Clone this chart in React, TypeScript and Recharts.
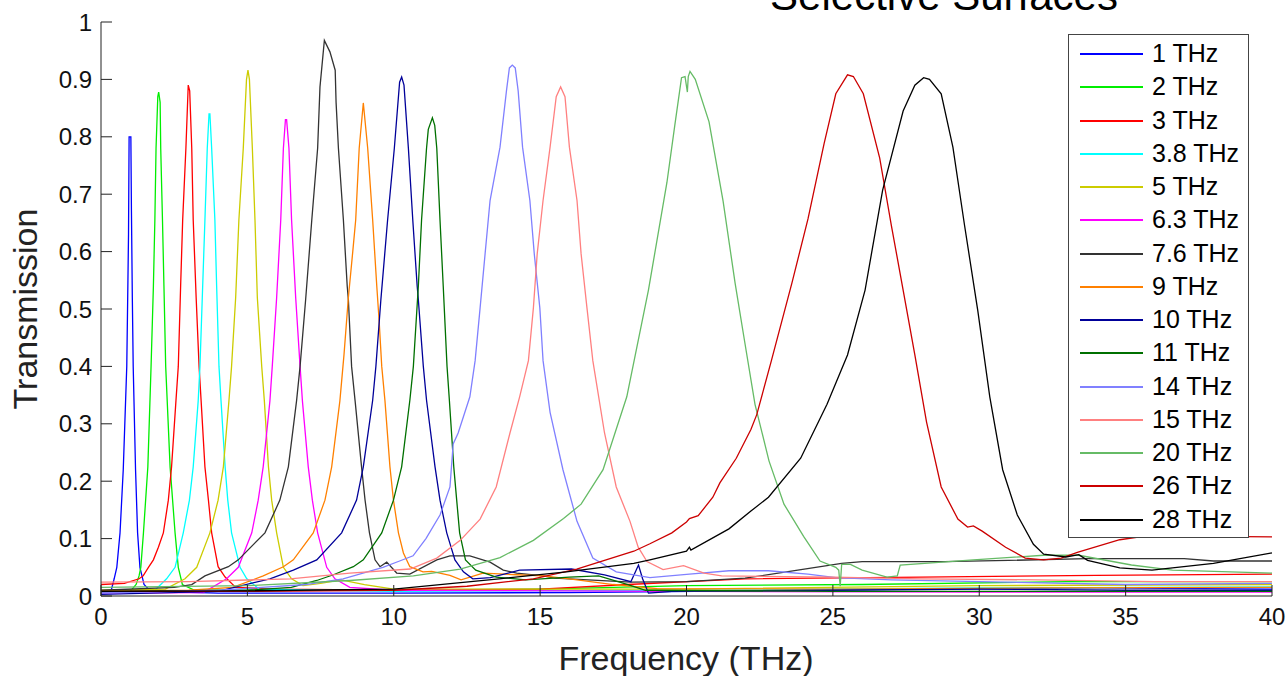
import { Legend, Line, LineChart, XAxis, YAxis } from 'recharts'

type Pt = [number, number]

// frequency (THz) / transmission pairs, one array per filter
const thz1: Pt[] = [[0, 0.004], [0.35, 0.01], [0.45, 0.03], [0.54, 0.05], [0.65, 0.11], [0.76, 0.22], [0.88, 0.4], [0.92, 0.55], [0.94, 0.63], [0.96, 0.8], [1.02, 0.8], [1.04, 0.67], [1.07, 0.52], [1.1, 0.4], [1.18, 0.22], [1.25, 0.11], [1.33, 0.05], [1.47, 0.02], [1.7, 0.008], [4, 0.005], [10, 0.005], [16, 0.006], [22, 0.009], [28, 0.012], [34, 0.014], [40, 0.012]]
const thz2: Pt[] = [[0, 0.006], [1.0, 0.008], [1.2, 0.02], [1.3, 0.035], [1.36, 0.05], [1.45, 0.11], [1.6, 0.225], [1.71, 0.4], [1.79, 0.54], [1.84, 0.655], [1.88, 0.78], [1.94, 0.87], [1.97, 0.878], [2.02, 0.86], [2.04, 0.78], [2.1, 0.655], [2.15, 0.54], [2.21, 0.4], [2.36, 0.225], [2.53, 0.11], [2.64, 0.05], [2.78, 0.02], [3.2, 0.01], [8, 0.01], [15, 0.012], [20, 0.018], [26, 0.02], [33, 0.025], [40, 0.025]]
const thz3: Pt[] = [[0, 0.02], [0.8, 0.022], [1.3, 0.03], [1.44, 0.035], [1.62, 0.05], [1.79, 0.063], [1.96, 0.085], [2.13, 0.11], [2.3, 0.167], [2.41, 0.225], [2.56, 0.34], [2.64, 0.4], [2.72, 0.54], [2.79, 0.655], [2.9, 0.78], [2.98, 0.89], [3.03, 0.88], [3.1, 0.78], [3.15, 0.655], [3.25, 0.52], [3.35, 0.4], [3.42, 0.34], [3.55, 0.225], [3.67, 0.167], [3.78, 0.11], [4.0, 0.051], [4.24, 0.033], [4.6, 0.015], [6, 0.012], [10, 0.01], [15, 0.012], [18, 0.02], [22, 0.03], [28, 0.033], [34, 0.036], [40, 0.038]]
const thz38: Pt[] = [[0, 0.005], [1.8, 0.008], [2.24, 0.03], [2.53, 0.05], [2.81, 0.11], [3.02, 0.167], [3.15, 0.225], [3.32, 0.34], [3.38, 0.4], [3.46, 0.52], [3.55, 0.655], [3.63, 0.78], [3.69, 0.84], [3.72, 0.84], [3.78, 0.78], [3.89, 0.655], [3.95, 0.54], [4.03, 0.4], [4.1, 0.34], [4.24, 0.225], [4.33, 0.167], [4.46, 0.11], [4.75, 0.05], [4.98, 0.03], [5.4, 0.012], [10, 0.008], [20, 0.01], [30, 0.014], [40, 0.016]]
const thz5: Pt[] = [[0, 0.01], [2.2, 0.012], [2.87, 0.03], [3.27, 0.05], [3.72, 0.11], [4.0, 0.167], [4.18, 0.225], [4.37, 0.34], [4.46, 0.4], [4.6, 0.52], [4.71, 0.655], [4.86, 0.78], [4.97, 0.9], [5.02, 0.916], [5.07, 0.9], [5.17, 0.78], [5.26, 0.655], [5.34, 0.52], [5.49, 0.4], [5.58, 0.34], [5.72, 0.225], [5.83, 0.167], [6.0, 0.11], [6.23, 0.05], [6.51, 0.03], [6.9, 0.018], [7.5, 0.022], [8.2, 0.028], [9, 0.02], [10, 0.012], [20, 0.012], [30, 0.018], [40, 0.02]]
const thz63: Pt[] = [[0, 0.005], [3.5, 0.006], [4.29, 0.03], [4.69, 0.05], [5.15, 0.11], [5.37, 0.167], [5.54, 0.225], [5.77, 0.34], [5.85, 0.4], [6.0, 0.52], [6.14, 0.655], [6.23, 0.78], [6.3, 0.83], [6.34, 0.83], [6.42, 0.78], [6.51, 0.655], [6.65, 0.52], [6.8, 0.4], [6.88, 0.34], [7.08, 0.225], [7.22, 0.167], [7.4, 0.11], [7.71, 0.05], [7.99, 0.03], [8.5, 0.015], [10, 0.01], [20, 0.008], [30, 0.007], [40, 0.007]]
const thz76: Pt[] = [[0, 0.01], [2.5, 0.015], [3.1, 0.02], [3.55, 0.035], [4.35, 0.051], [4.69, 0.063], [5.6, 0.11], [6.11, 0.167], [6.4, 0.225], [6.68, 0.34], [6.8, 0.4], [6.99, 0.516], [7.2, 0.655], [7.4, 0.78], [7.48, 0.887], [7.63, 0.968], [7.82, 0.948], [8.0, 0.916], [8.03, 0.86], [8.11, 0.78], [8.28, 0.655], [8.41, 0.54], [8.45, 0.516], [8.56, 0.4], [8.68, 0.34], [8.9, 0.225], [9.02, 0.167], [9.17, 0.11], [9.36, 0.063], [9.53, 0.051], [9.76, 0.059], [10.1, 0.04], [10.55, 0.038], [11.47, 0.063], [11.92, 0.07], [12.6, 0.07], [13.29, 0.059], [13.74, 0.045], [14.2, 0.04], [15.1, 0.035], [15.5, 0.031], [18.1, 0.024], [20, 0.025], [22, 0.031], [23.8, 0.045], [25.3, 0.057], [26, 0.06], [28.8, 0.06], [31, 0.062], [33.7, 0.065], [37, 0.065], [38, 0.061], [40, 0.061]]
const thz9: Pt[] = [[0, 0.008], [3, 0.01], [4.5, 0.015], [5.54, 0.035], [6.23, 0.051], [6.57, 0.063], [7.25, 0.11], [7.65, 0.167], [7.88, 0.225], [8.16, 0.34], [8.3, 0.42], [8.45, 0.52], [8.6, 0.6], [8.7, 0.655], [8.82, 0.78], [8.96, 0.859], [9.11, 0.78], [9.28, 0.655], [9.42, 0.54], [9.5, 0.48], [9.59, 0.4], [9.7, 0.34], [9.87, 0.225], [9.99, 0.167], [10.16, 0.11], [10.33, 0.075], [10.55, 0.051], [11.0, 0.042], [11.3, 0.043], [11.92, 0.036], [12.3, 0.028], [13.05, 0.04], [14.2, 0.037], [15.1, 0.035], [16, 0.03], [17.5, 0.02], [19, 0.013], [25, 0.012], [32, 0.014], [40, 0.015]]
const thz10: Pt[] = [[0, 0.003], [4, 0.008], [5.77, 0.03], [6.57, 0.045], [7.37, 0.063], [8.22, 0.11], [8.73, 0.167], [8.96, 0.225], [9.28, 0.341], [9.39, 0.4], [9.56, 0.516], [9.79, 0.655], [10.02, 0.78], [10.2, 0.895], [10.27, 0.904], [10.35, 0.89], [10.5, 0.78], [10.65, 0.655], [10.8, 0.54], [10.84, 0.516], [11.01, 0.4], [11.12, 0.341], [11.41, 0.225], [11.58, 0.167], [11.81, 0.11], [12.09, 0.063], [12.38, 0.042], [12.7, 0.03], [13.3, 0.032], [14.3, 0.045], [16.07, 0.047], [17.2, 0.037], [18.1, 0.025], [18.36, 0.054], [18.5, 0.03], [18.7, 0.005], [19.5, 0.008], [25, 0.01], [30, 0.012], [35, 0.01], [40, 0.01]]
const thz11: Pt[] = [[0, 0.008], [5, 0.01], [6.5, 0.015], [7.37, 0.027], [7.94, 0.037], [8.62, 0.051], [8.96, 0.063], [9.59, 0.11], [9.99, 0.167], [10.27, 0.225], [10.55, 0.341], [10.67, 0.4], [10.84, 0.54], [10.95, 0.655], [11.12, 0.78], [11.18, 0.813], [11.32, 0.833], [11.4, 0.82], [11.47, 0.78], [11.58, 0.655], [11.69, 0.54], [11.82, 0.4], [11.9, 0.341], [12.05, 0.225], [12.15, 0.167], [12.25, 0.11], [12.45, 0.063], [12.8, 0.045], [13.5, 0.033], [14.5, 0.028], [16, 0.033], [17, 0.035], [18, 0.02], [18.6, 0.01], [25, 0.008], [32, 0.008], [40, 0.008]]
const thz14: Pt[] = [[0, 0.005], [4, 0.01], [7, 0.02], [8.27, 0.03], [9.63, 0.05], [10.2, 0.061], [10.66, 0.07], [11.1, 0.1], [11.58, 0.141], [11.92, 0.19], [12.03, 0.265], [12.2, 0.284], [12.6, 0.347], [12.78, 0.41], [12.95, 0.502], [13.12, 0.596], [13.29, 0.689], [13.63, 0.782], [13.85, 0.88], [13.95, 0.92], [14.05, 0.925], [14.15, 0.92], [14.25, 0.88], [14.4, 0.782], [14.65, 0.689], [14.8, 0.596], [14.99, 0.502], [15.1, 0.41], [15.34, 0.32], [15.78, 0.22], [16.26, 0.13], [16.8, 0.066], [17.6, 0.042], [18.4, 0.035], [18.75, 0.032], [20.1, 0.038], [21.45, 0.044], [22.8, 0.044], [24.15, 0.038], [25.1, 0.032], [27, 0.028], [30, 0.025], [35, 0.02], [40, 0.022]]
const thz15: Pt[] = [[0, 0.024], [3, 0.025], [6.46, 0.03], [8.5, 0.04], [10.56, 0.047], [11.47, 0.066], [12.27, 0.097], [12.95, 0.134], [13.5, 0.19], [13.97, 0.284], [14.3, 0.347], [14.6, 0.41], [14.77, 0.502], [14.9, 0.596], [15.1, 0.689], [15.34, 0.782], [15.55, 0.87], [15.7, 0.887], [15.85, 0.87], [16.0, 0.782], [16.26, 0.689], [16.4, 0.596], [16.6, 0.502], [16.8, 0.41], [17.2, 0.284], [17.6, 0.19], [18.07, 0.13], [18.35, 0.085], [18.65, 0.06], [19.2, 0.046], [19.9, 0.053], [20.6, 0.04], [21.2, 0.035], [25, 0.033], [28, 0.03], [32, 0.028], [36, 0.025], [40, 0.025]]
const thz20: Pt[] = [[0, 0.015], [5, 0.018], [8.5, 0.027], [10.67, 0.035], [12.27, 0.047], [13.63, 0.067], [14.77, 0.097], [15.8, 0.135], [16.4, 0.16], [17.15, 0.22], [17.96, 0.347], [18.7, 0.533], [19.33, 0.72], [19.6, 0.82], [19.83, 0.903], [19.95, 0.905], [20.03, 0.878], [20.06, 0.905], [20.12, 0.914], [20.3, 0.9], [20.77, 0.826], [21.25, 0.688], [21.66, 0.545], [22.0, 0.439], [22.34, 0.334], [22.82, 0.235], [23.33, 0.16], [24.0, 0.104], [24.56, 0.061], [25.1, 0.05], [25.2, 0.045], [25.25, 0.017], [25.3, 0.055], [25.6, 0.055], [26.0, 0.045], [26.85, 0.033], [27.2, 0.035], [27.3, 0.054], [29.8, 0.063], [32.2, 0.071], [33.4, 0.071], [35.2, 0.054], [36.6, 0.045], [40, 0.04]]
const thz26: Pt[] = [[0, 0.008], [5, 0.008], [10, 0.01], [12.5, 0.017], [14.77, 0.03], [16.25, 0.047], [18.2, 0.078], [18.75, 0.091], [19.5, 0.11], [20.0, 0.129], [20.1, 0.135], [20.4, 0.14], [20.9, 0.172], [21.14, 0.197], [21.7, 0.24], [22.2, 0.29], [22.4, 0.316], [22.9, 0.41], [23.6, 0.545], [24.15, 0.657], [24.7, 0.788], [25.1, 0.875], [25.5, 0.908], [25.7, 0.905], [26.04, 0.875], [26.6, 0.763], [27.0, 0.645], [27.4, 0.533], [27.8, 0.42], [28.2, 0.303], [28.7, 0.19], [29.27, 0.134], [29.6, 0.12], [29.8, 0.122], [30.1, 0.113], [30.9, 0.085], [31.57, 0.066], [32.2, 0.063], [32.8, 0.066], [33.35, 0.076], [34.8, 0.098], [35.9, 0.106], [38, 0.104], [40, 0.103]]
const thz28: Pt[] = [[0, 0.008], [5, 0.009], [10, 0.012], [13.6, 0.03], [15.9, 0.042], [18.2, 0.057], [18.75, 0.063], [20.0, 0.078], [20.1, 0.085], [20.15, 0.08], [21.45, 0.117], [22.2, 0.148], [22.8, 0.172], [23.9, 0.24], [24.8, 0.334], [25.5, 0.42], [26.1, 0.533], [26.7, 0.707], [27.4, 0.845], [27.8, 0.89], [28.1, 0.903], [28.3, 0.9], [28.7, 0.875], [29.1, 0.782], [29.5, 0.645], [29.95, 0.497], [30.36, 0.347], [30.8, 0.22], [31.3, 0.141], [31.85, 0.09], [32.2, 0.073], [32.96, 0.068], [33.4, 0.072], [33.7, 0.062], [34.8, 0.049], [35.9, 0.045], [38, 0.057], [40, 0.075]]

const seriesNames = ['1 THz', '2 THz', '3 THz', '3.8 THz', '5 THz', '6.3 THz', '7.6 THz', '9 THz', '10 THz', '11 THz', '14 THz', '15 THz', '20 THz', '26 THz', '28 THz']
const seriesColors = ['#0000ff', '#00ee00', '#ff0000', '#00ffff', '#cccc00', '#ff00ff', '#333333', '#ff8000', '#000099', '#007000', '#8080ff', '#ff8080', '#66bb66', '#cc0000', '#000000']
const seriesValues = [thz1, thz2, thz3, thz38, thz5, thz63, thz76, thz9, thz10, thz11, thz14, thz15, thz20, thz26, thz28]

const xTicks = [0, 5, 10, 15, 20, 25, 30, 35, 40]
const yTicks = [0, 0.1, 0.2, 0.3, 0.4, 0.5, 0.6, 0.7, 0.8, 0.9, 1]

const FONT = '"Liberation Sans", Arial, sans-serif'

const series = seriesValues.map((pts, i) => ({
  name: seriesNames[i],
  color: seriesColors[i],
  data: pts.map(([f, t]) => ({ f, t })),
}))

function LegendBox({ payload }: { payload?: Array<{ value: string; color: string }> }) {
  // the legend sorts by name; put it back into plotting order
  const items = [...(payload ?? [])].sort(
    (a, b) => seriesNames.indexOf(String(a.value)) - seriesNames.indexOf(String(b.value)),
  )
  return (
    <div
      style={{
        position: 'relative',
        width: 181,
        height: 504,
        boxSizing: 'border-box',
        border: '1px solid #444',
        background: '#fff',
        fontFamily: FONT,
      }}
    >
      {items.map((item, i) => {
        const cy = Math.round(19 + i * 33.26)
        return (
          <div key={item.value}>
            <div style={{ position: 'absolute', left: 11, top: cy - 1, width: 63, height: 2, background: item.color }} />
            <span
              style={{ position: 'absolute', left: 83, top: cy - 15, fontSize: 25, lineHeight: '29px', color: '#000', whiteSpace: 'nowrap' }}
            >
              {item.value}
            </span>
          </div>
        )
      })}
    </div>
  )
}

export default function App() {
  return (
    <div style={{ position: 'absolute', left: 0, top: 0, width: 1286, height: 676, background: '#fff', overflow: 'hidden' }}>
      <LineChart width={1286} height={676} margin={{ top: 22, right: 14, bottom: 0, left: 0 }} style={{ fontFamily: FONT }}>
        <XAxis
          type="number"
          dataKey="f"
          domain={[0, 40]}
          ticks={xTicks}
          interval={0}
          height={80}
          tickSize={-11}
          tickMargin={23}
          stroke="#222"
          tick={{ fontSize: 24, fill: '#111', fontFamily: FONT }}
        />
        <YAxis
          type="number"
          domain={[0, 1]}
          ticks={yTicks}
          interval={0}
          width={101}
          tickSize={-11}
          tickMargin={20}
          stroke="#222"
          tickFormatter={(v: number) => String(Math.round(v * 10) / 10)}
          tick={{ fontSize: 24, fill: '#111', fontFamily: FONT }}
        />
        {series.map((s) => (
          <Line
            key={s.name}
            name={s.name}
            data={s.data}
            dataKey="t"
            type="linear"
            stroke={s.color}
            strokeWidth={1.3}
            dot={false}
            activeDot={false}
            isAnimationActive={false}
          />
        ))}
        <Legend
          layout="horizontal"
          verticalAlign="middle"
          align="center"
          wrapperStyle={{ position: 'absolute', left: 1068, top: 34, width: 181, height: 504 }}
          content={(props: any) => <LegendBox payload={props.payload} />}
        />
        <text x={944} y={10} textAnchor="middle" fontSize={42} fontFamily={FONT} fill="#000">
          Selective Surfaces
        </text>
        <text x={686} y={670} textAnchor="middle" fontSize={34} fontFamily={FONT} fill="#222">
          Frequency (THz)
        </text>
        <text x={37} y={309} textAnchor="middle" fontSize={34} fontFamily={FONT} fill="#222" transform="rotate(-90 37 309)">
          Transmission
        </text>
      </LineChart>
    </div>
  )
}
